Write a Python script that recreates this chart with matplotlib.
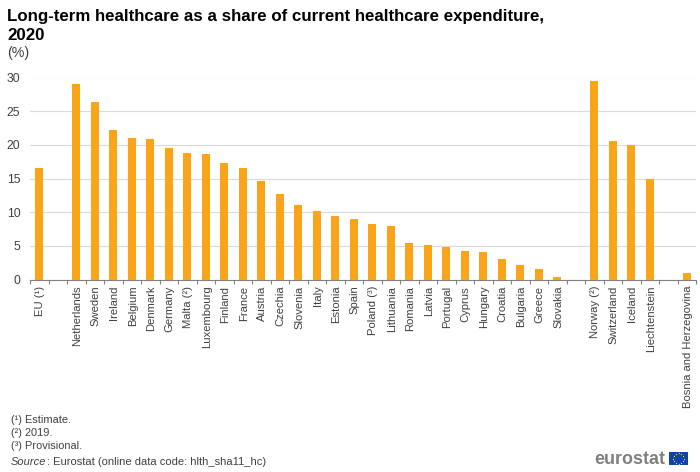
import numpy as np
import matplotlib
matplotlib.use("Agg")
import matplotlib.pyplot as plt
from matplotlib.patches import Rectangle
from matplotlib.transforms import ScaledTranslation

plt.rcParams['font.family'] = ['Liberation Sans', 'DejaVu Sans']

categories = ["EU (¹)", "", "Netherlands", "Sweden", "Ireland", "Belgium", "Denmark", "Germany",
              "Malta (²)", "Luxembourg", "Finland", "France", "Austria", "Czechia", "Slovenia",
              "Italy", "Estonia", "Spain", "Poland (³)", "Lithuania", "Romania", "Latvia",
              "Portugal", "Cyprus", "Hungary", "Croatia", "Bulgaria", "Greece", "Slovakia", "",
              "Norway (²)", "Switzerland", "Iceland", "Liechtenstein", "", "Bosnia and Herzegovina"]
values = [16.6, np.nan, 29.0, 26.3, 22.2, 21.0, 20.8, 19.6,
          18.8, 18.6, 17.3, 16.5, 14.6, 12.7, 11.0,
          10.2, 9.4, 9.0, 8.2, 7.9, 5.4, 5.1,
          4.9, 4.2, 4.1, 3.0, 2.1, 1.5, 0.4, np.nan,
          29.5, 20.6, 20.0, 15.0, np.nan, 1.0]
y_ticks = [0, 5, 10, 15, 20, 25, 30]
title_lines = ["Long-term healthcare as a share of current healthcare expenditure,", "2020"]
footnotes = ["(¹) Estimate.", "(²) 2019.", "(³) Provisional."]

W, H = 700, 472
fig = plt.figure(figsize=(W / 100, H / 100), dpi=100)
ax = fig.add_axes([30 / W, 1 - 279.5 / H, 666 / W, 202 / H])

x = np.arange(len(categories))
ax.bar(x, values, width=0.42, color="#FAA519", zorder=3)
ax.set_xlim(-0.5, len(categories) - 0.5)
ax.set_ylim(0, 30)
ax.set_yticks(y_ticks)
ax.set_xticks(np.arange(len(categories) + 1) - 0.5, minor=False)
ax.set_xticklabels([])
ax.set_xticks(x, labels=categories, minor=True)
ax.tick_params(axis="x", which="major", length=3, width=0.8, color="#808080", direction="out")
ax.tick_params(axis="x", which="minor", length=0, pad=4.5, labelsize=8.1,
               labelcolor="#404040", rotation=90)
ax.tick_params(axis="y", length=0, pad=7, labelsize=8.8, labelcolor="#404040")
shift = ScaledTranslation(1 / 100, 0, fig.dpi_scale_trans)
for lab in ax.get_xticklabels(minor=True):
    lab.set_transform(lab.get_transform() + shift)
ax.grid(axis="y", color="#D9D9D9", linewidth=0.8, zorder=0)
for s in ["top", "right", "left"]:
    ax.spines[s].set_visible(False)
ax.spines["bottom"].set_color("#808080")
ax.spines["bottom"].set_linewidth(0.8)

def T(px, py, s, **kw):
    return fig.text(px / W, 1 - py / H, s, va="baseline", **kw)

T(7, 21, title_lines[0], fontsize=12.2, fontweight="bold", color="black")
T(7, 40, title_lines[1], fontsize=12.2, fontweight="bold", color="black")
T(7, 56.5, "(%)", fontsize=10.3, color="#404040")

for py, s in zip([423, 436, 449], footnotes):
    T(11, py, s, fontsize=7.9, color="#404040")
src = T(11, 465, "Source", fontsize=8.0, style="italic", color="#404040")
fig.canvas.draw()
src_right = src.get_window_extent().x1
T(src_right + 0.5, 465, ": Eurostat (online data code: hlth_sha11_hc)", fontsize=8.0, color="#404040")

T(594.5, 464.5, "eurostat", fontsize=12.9, fontweight="bold", color="#7F7F7F")
flag = fig.add_axes([669 / W, 1 - 465 / H, 19 / W, 13 / H])
flag.add_patch(Rectangle((0, 0), 1, 1, color="#0E47A1"))
angles = np.arange(12) * np.pi / 6
flag.scatter(0.5 + 0.3 * np.cos(angles), 0.5 + 0.42 * np.sin(angles), s=0.8, color="#FFD617", linewidths=0)
flag.set_xlim(0, 1)
flag.set_ylim(0, 1)
flag.axis("off")

fig.savefig("out.png", dpi=100)
